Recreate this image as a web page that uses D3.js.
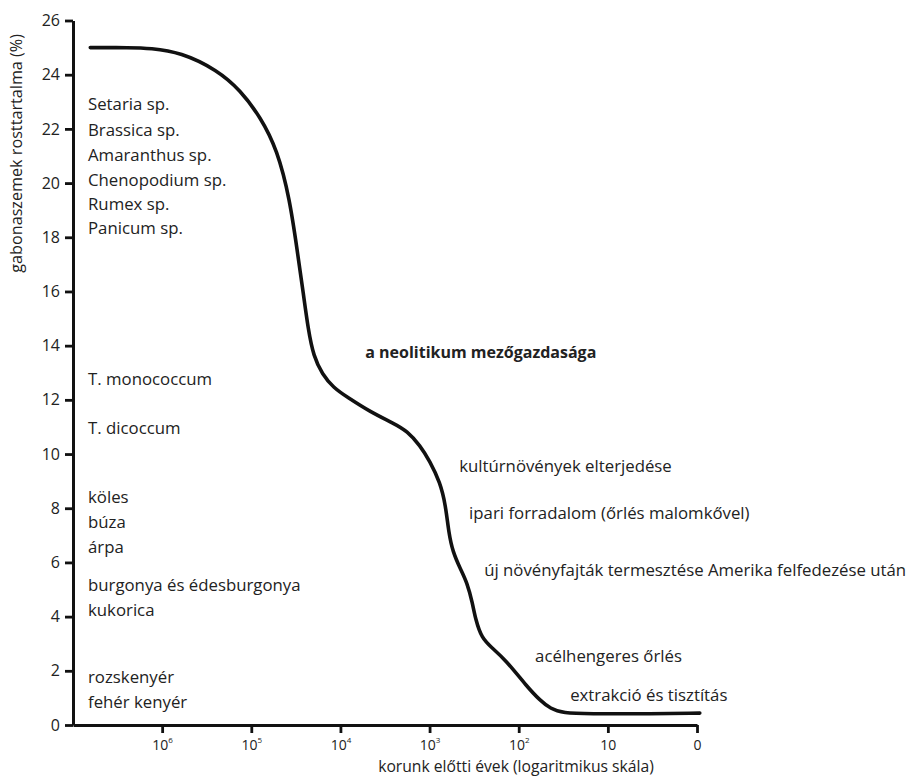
<!DOCTYPE html>
<html>
<head>
<meta charset="utf-8">
<script src="https://cdn.jsdelivr.net/npm/d3@7"></script>
<style>
  body { margin: 0; background: #fff; }
  svg text { font-family: "Open Sans", sans-serif; fill: #222; }
</style>
</head>
<body>
<div id="chart"></div>
<script>
// curve: years before present vs. fibre content (%)
const yearsAgo = [6.4e6, 2.3e6, 1.36e6, 6.2e5, 2.4e5, 1.33e5, 7.9e4, 5.1e4, 3.7e4, 3.05e4,
  2.6e4, 2.3e4, 2.0e4, 1.6e4, 1.2e4, 8400, 4600, 2560, 1780, 1270,
  1000, 760, 660, 610, 550, 450, 379, 330, 305, 260, 200,
  140, 80, 58, 44, 32, 16, 4.4, 0.93];
const fiberPct = [25.0, 25.0, 24.98, 24.83, 24.17, 23.43, 22.44, 21.22, 19.4, 17.5,
  15.9, 14.6, 13.6, 12.95, 12.45, 12.1, 11.55, 11.14, 10.85, 10.3,
  9.75, 8.95, 8.1, 7.1, 6.4, 5.75, 5.25, 4.5, 3.9, 3.2, 2.85,
  2.4, 1.4, 0.92, 0.6, 0.44, 0.41, 0.41, 0.44];

const xTickValues = [1e6, 1e5, 1e4, 1e3, 1e2, 10, 1];
const xTickBase = ["10", "10", "10", "10", "10", "10", "0"];
const xTickExp = ["6", "5", "4", "3", "2", "", ""];
const yTickValues = [0, 2, 4, 6, 8, 10, 12, 14, 16, 18, 20, 22, 24, 26];

// species labels along the left side (fibre %)
const speciesNames = ["Setaria sp.", "Brassica sp.", "Amaranthus sp.", "Chenopodium sp.", "Rumex sp.", "Panicum sp.",
  "T. monococcum", "T. dicoccum", "köles", "búza", "árpa",
  "burgonya és édesburgonya", "kukorica", "rozskenyér", "fehér kenyér"];
const speciesPct = [22.91, 21.95, 21.03, 20.11, 19.23, 18.34,
  12.77, 10.96, 8.41, 7.49, 6.57, 5.17, 4.24, 1.77, 0.85];

// event labels (years before present, fibre %)
const eventNames = ["a neolitikum mezőgazdasága", "kultúrnövények elterjedése",
  "ipari forradalom (őrlés malomkővel)", "új növényfajták termesztése Amerika felfedezése után",
  "acélhengeres őrlés", "extrakció és tisztítás"];
const eventYears = [5270, 466, 360, 244, 65.5, 26.5];
const eventPct = [13.76, 9.56, 7.82, 5.72, 2.55, 1.11];

const width = 914, height = 777;

const svg = d3.select("#chart").append("svg")
  .attr("width", width)
  .attr("height", height);

const x = d3.scaleLog().domain([1e7, 1]).range([73, 697]);
const y = d3.scaleLinear().domain([0, 26]).range([725, 20.5]);

// y axis
const yAxis = svg.append("g")
  .attr("transform", "translate(73,0)")
  .call(d3.axisLeft(y).tickValues(yTickValues).tickSize(8).tickSizeOuter(0).tickPadding(5));
yAxis.select(".domain").attr("stroke", "#111").attr("stroke-width", 3);
yAxis.selectAll(".tick line").attr("stroke", "#111").attr("stroke-width", 2.8);
yAxis.selectAll(".tick text").attr("font-size", 16).style("font-family", "Open Sans").attr("fill", "#222");

// x axis
const xAxis = svg.append("g")
  .attr("transform", "translate(0,725)")
  .call(d3.axisBottom(x).tickValues(xTickValues).tickSize(8).tickSizeOuter(0).tickFormat(""));
xAxis.select(".domain").attr("stroke", "#111").attr("stroke-width", 3);
xAxis.selectAll(".tick line").attr("stroke", "#111").attr("stroke-width", 2.8);

const xLabels = xAxis.selectAll(".tick").append("text")
  .attr("y", 25)
  .attr("text-anchor", "middle")
  .attr("font-size", 14)
  .style("font-family", "Open Sans")
  .attr("fill", "#222");
xLabels.append("tspan").text((d, i) => xTickBase[i]);
xLabels.append("tspan")
  .attr("font-size", 8)
  .attr("dy", -7)
  .text((d, i) => xTickExp[i]);

// axis titles
svg.append("text")
  .attr("transform", "translate(22,34) rotate(-90)")
  .attr("text-anchor", "end")
  .attr("font-size", 16.2)
  .text("gabonaszemek rosttartalma (%)");

svg.append("text")
  .attr("x", 516)
  .attr("y", 772)
  .attr("text-anchor", "middle")
  .attr("font-size", 15.7)
  .text("korunk előtti évek (logaritmikus skála)");

// curve
const pts = yearsAgo.map((d, i) => [d, fiberPct[i]]);
const line = d3.line()
  .x(d => x(d[0]))
  .y(d => y(d[1]))
  .curve(d3.curveBasis);

svg.append("path")
  .datum(pts)
  .attr("fill", "none")
  .attr("stroke", "#111")
  .attr("stroke-width", 3.6)
  .attr("stroke-linecap", "round")
  .attr("d", line);

// species labels
svg.append("g")
  .selectAll("text")
  .data(speciesNames)
  .join("text")
  .attr("x", 88)
  .attr("y", (d, i) => y(speciesPct[i]))
  .attr("dy", "0.35em")
  .attr("font-size", 16.8)
  .text(d => d);

// event labels
svg.append("g")
  .selectAll("text")
  .data(eventNames)
  .join("text")
  .attr("x", (d, i) => x(eventYears[i]))
  .attr("y", (d, i) => y(eventPct[i]))
  .attr("dy", "0.35em")
  .attr("font-size", (d, i) => i === 0 ? 16 : 16.8)
  .attr("font-weight", (d, i) => i === 0 ? "bold" : "normal")
  .text(d => d);
</script>
</body>
</html>
